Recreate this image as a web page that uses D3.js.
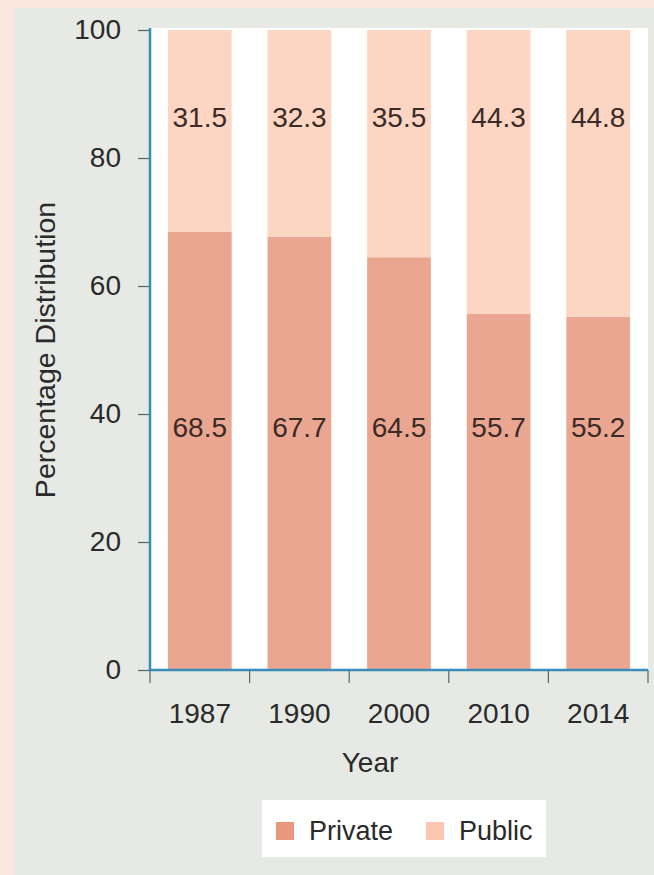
<!DOCTYPE html>
<html>
<head>
<meta charset="utf-8">
<script src="https://cdn.jsdelivr.net/npm/d3@7"></script>
<style>
  html, body { margin: 0; padding: 0; background: #fce7de; }
  svg { display: block; }
  text { font-family: "Liberation Sans", Arial, sans-serif; }
</style>
</head>
<body>
<svg id="chart" width="654" height="875"></svg>
<script>
// Share of private and public sector, by year (percent)
const years = ["1987", "1990", "2000", "2010", "2014"];
const privateShare = [68.5, 67.7, 64.5, 55.7, 55.2];
const publicShare = [31.5, 32.3, 35.5, 44.3, 44.8];
const seriesNames = ["Private", "Public"];
const yTicks = [0, 20, 40, 60, 80, 100];

const colors = { Private: "#eba692", Public: "#fdd6c3" };
const swatchColors = { Private: "#e9977f", Public: "#fcc7b0" };

const svg = d3.select("#chart");
const W = 654, H = 875;

// outer frame and inner panel
svg.append("rect").attr("x", 0).attr("y", 0).attr("width", W).attr("height", H).attr("fill", "#fce7de");
svg.append("rect").attr("x", 14).attr("y", 8).attr("width", W - 14).attr("height", H - 8).attr("fill", "#e6e9e4");

const margin = { left: 150, right: 6, top: 30, bottom: 205 };
const x0 = margin.left, x1 = W - margin.right;
const yTop = margin.top, yBot = H - margin.bottom;

const x = d3.scaleBand().domain(years).range([x0, x1]).paddingInner(0.36).paddingOuter(0.18);
const xb = d3.scaleBand().domain(years).range([x0, x1]).padding(0);
const y = d3.scaleLinear().domain([0, 100]).range([yBot, yTop]);

// plot background
svg.append("rect").attr("x", x0).attr("y", yTop - 2).attr("width", x1 - x0).attr("height", yBot - yTop + 2).attr("fill", "#ffffff");

// stacked data
const rows = years.map((yr, i) => ({ year: yr, Private: privateShare[i], Public: publicShare[i] }));
const stack = d3.stack().keys(seriesNames)(rows);

const g = svg.append("g");
g.selectAll("g.series").data(stack).join("g")
  .attr("class", "series")
  .attr("fill", d => colors[d.key])
  .selectAll("rect").data(d => d).join("rect")
  .attr("x", d => x(d.data.year))
  .attr("width", x.bandwidth())
  .attr("y", d => y(d[1]))
  .attr("height", d => y(d[0]) - y(d[1]));

// value labels
const labelColor = "#3b2b27";
const labelFont = 28;
g.selectAll("text.pub").data(rows).join("text")
  .attr("class", "pub")
  .attr("x", d => x(d.year) + x.bandwidth() / 2)
  .attr("y", y(86.3))
  .attr("dy", "0.35em")
  .attr("text-anchor", "middle")
  .attr("font-size", labelFont)
  .attr("fill", labelColor)
  .text(d => d.Public.toFixed(1));
g.selectAll("text.priv").data(rows).join("text")
  .attr("class", "priv")
  .attr("x", d => x(d.year) + x.bandwidth() / 2)
  .attr("y", y(38))
  .attr("dy", "0.35em")
  .attr("text-anchor", "middle")
  .attr("font-size", labelFont)
  .attr("fill", labelColor)
  .text(d => d.Private.toFixed(1));

// y axis
const yAxis = d3.axisLeft(y).tickValues(yTicks).tickSize(12).tickPadding(17);
const yg = svg.append("g").attr("transform", `translate(${x0},0)`).call(yAxis);
yg.select(".domain").remove();
yg.selectAll(".tick line").attr("stroke", "#4f6673").attr("stroke-width", 1.2);
yg.selectAll(".tick text").attr("font-size", 28).attr("fill", "#2a2a2a")
  .attr("font-family", "Liberation Sans, Arial, sans-serif");
svg.append("line").attr("x1", x0).attr("x2", x0).attr("y1", yTop - 2).attr("y2", yBot)
  .attr("stroke", "#3a8db8").attr("stroke-width", 2.5);

// x axis: ticks at category boundaries
const xAxis = d3.axisBottom(xb).tickSize(0).tickPadding(33);
const xg = svg.append("g").attr("transform", `translate(0,${yBot})`).call(xAxis);
xg.select(".domain").remove();
xg.selectAll(".tick text").attr("font-size", 28).attr("fill", "#2a2a2a")
  .attr("font-family", "Liberation Sans, Arial, sans-serif");
const bounds = years.map(d => xb(d)).concat([xb(years[years.length - 1]) + xb.bandwidth()]);
svg.append("g").selectAll("line").data(bounds).join("line")
  .attr("x1", d => d).attr("x2", d => d)
  .attr("y1", yBot).attr("y2", yBot + 13)
  .attr("stroke", "#4f6673").attr("stroke-width", 1.2);
svg.append("line").attr("x1", x0).attr("x2", x1).attr("y1", yBot).attr("y2", yBot)
  .attr("stroke", "#3a8db8").attr("stroke-width", 2.5);

// axis titles
svg.append("text")
  .attr("transform", `translate(55,${(yTop + yBot) / 2}) rotate(-90)`)
  .attr("text-anchor", "middle")
  .attr("font-size", 28.5)
  .attr("fill", "#2a2a2a")
  .text("Percentage Distribution");
svg.append("text")
  .attr("x", 370).attr("y", 772)
  .attr("text-anchor", "middle")
  .attr("font-size", 28)
  .attr("fill", "#2a2a2a")
  .text("Year");

// legend
const lg = svg.append("g");
lg.append("rect").attr("x", 262).attr("y", 800).attr("width", 284).attr("height", 57).attr("fill", "#ffffff");
const legendX = [276, 426];
seriesNames.forEach((name, i) => {
  lg.append("rect").attr("x", legendX[i]).attr("y", 822).attr("width", 18).attr("height", 18)
    .attr("fill", swatchColors[name]);
  lg.append("text").attr("x", legendX[i] + 33).attr("y", 840)
    .attr("font-size", 27).attr("fill", "#2a2a2a").text(name);
});
</script>
</body>
</html>
